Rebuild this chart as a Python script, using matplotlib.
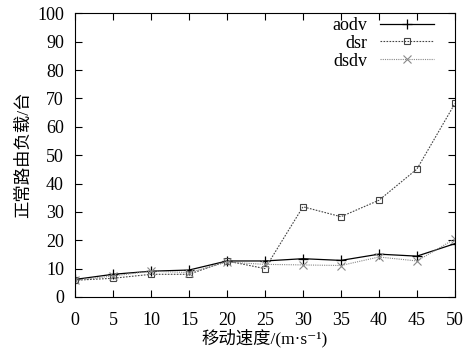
import matplotlib
matplotlib.use("Agg")
import matplotlib.pyplot as plt

speed = [0, 5, 10, 15, 20, 25, 30, 35, 40, 45, 50]
aodv = [6.2, 8.0, 9.1, 9.5, 12.7, 12.7, 13.5, 12.9, 15.1, 14.4, 18.8]
dsr = [5.9, 6.6, 8.0, 8.0, 12.7, 10.0, 31.8, 28.3, 34.1, 45.1, 68.2]
dsdv = [5.9, 7.4, 9.1, 8.6, 12.3, 11.5, 11.3, 11.1, 14.1, 12.7, 20.5]
yticks = [0, 10, 20, 30, 40, 50, 60, 70, 80, 90, 100]

serif = ["Liberation Serif", "DejaVu Serif"]
mixed = ["Liberation Serif", "Noto Sans CJK SC", "DejaVu Sans"]

fig = plt.figure(figsize=(4.69, 3.49), dpi=100)
ax = fig.add_axes([0.16, 0.149, 0.81, 0.813])

ax.plot(speed, aodv, color="black", lw=0.9, ls="-", marker="+", ms=7, mew=0.9, label="aodv")
ax.plot(speed, dsr, color="#444444", lw=0.8, ls=(0, (1.5, 1.2)), marker="s", ms=5, mfc="none", mew=0.8, label="dsr")
ax.plot(speed, dsdv, color="#888888", lw=0.8, ls=(0, (1, 1)), marker="x", ms=6, mew=0.8, label="dsdv")

ax.set_xlim(0, 50)
ax.set_ylim(0, 100)
ax.set_xticks(speed)
ax.set_yticks(yticks)
ax.tick_params(direction="in", top=True, right=True, length=5, width=0.8)
ax.tick_params(axis="x", pad=11)
ax.tick_params(axis="y", pad=8)
for lab in ax.get_xticklabels() + ax.get_yticklabels():
    lab.set_family(serif)
    lab.set_fontsize(13)
for s in ax.spines.values():
    s.set_linewidth(0.8)

ax.set_xlabel("移动速度/(m·s⁻¹)", family=mixed, fontsize=12.5, labelpad=0)
ax.set_ylabel("正常路由负载/台", family=mixed, fontsize=12.5, labelpad=4)

leg = ax.legend(loc="upper right", bbox_to_anchor=(0.955, 1.0), frameon=False,
                markerfirst=False, prop={"family": serif, "size": 13},
                handlelength=3.0, labelspacing=0.05, borderaxespad=0.0,
                borderpad=0.2, handletextpad=0.7)

fig.savefig("out.png", dpi=100)
